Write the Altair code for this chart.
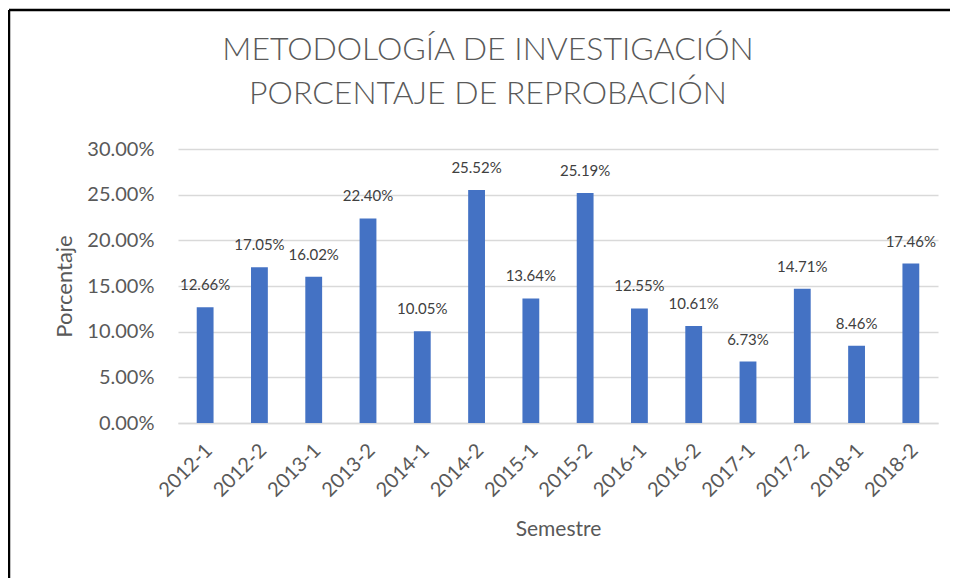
import altair as alt
import pandas as pd

semestres = ["2012-1", "2012-2", "2013-1", "2013-2", "2014-1", "2014-2", "2015-1",
             "2015-2", "2016-1", "2016-2", "2017-1", "2017-2", "2018-1", "2018-2"]
porcentajes = [0.1266, 0.1705, 0.1602, 0.2240, 0.1005, 0.2552, 0.1364,
               0.2519, 0.1255, 0.1061, 0.0673, 0.1471, 0.0846, 0.1746]
y_ticks = [0, 0.05, 0.10, 0.15, 0.20, 0.25, 0.30]
titulo = ["METODOLOGÍA DE INVESTIGACIÓN", "PORCENTAJE DE REPROBACIÓN"]

df = pd.DataFrame({"Semestre": semestres, "Porcentaje": porcentajes})

FONT = "Lato"
GREY = "#595959"

x_enc = alt.X("Semestre:N", sort=semestres, title="Semestre",
              scale=alt.Scale(paddingInner=0.69, paddingOuter=0.345),
              axis=alt.Axis(labelAngle=-45, labelAlign="right", labelBaseline="middle",
                            labelFontSize=20, labelColor=GREY, labelFont=FONT,
                            labelPadding=24, labelOffset=4, ticks=False,
                            domainColor="#d9d9d9", domainWidth=1.5,
                            titleFontSize=21, titleColor=GREY, titleFont=FONT,
                            titleFontWeight="normal", titlePadding=18))
y_enc = alt.Y("Porcentaje:Q", title="Porcentaje",
              scale=alt.Scale(domain=[0, 0.30], nice=False),
              axis=alt.Axis(values=y_ticks, format=".2%", labelFontSize=20,
                            labelColor=GREY, labelFont=FONT, labelPadding=24,
                            ticks=False, domain=False, gridColor="#d9d9d9",
                            gridWidth=1.5, titleFontSize=22, titleColor=GREY,
                            titleFont=FONT, titleFontWeight="normal", titlePadding=10))

bars = alt.Chart(df).mark_bar(color="#4472C4").encode(x=x_enc, y=y_enc)

labels = alt.Chart(df).mark_text(baseline="bottom", dy=-14, fontSize=15,
                                 font=FONT, color="#404040").encode(
    x=alt.X("Semestre:N", sort=semestres),
    y=alt.Y("Porcentaje:Q"),
    text=alt.Text("Porcentaje:Q", format=".2%"))

frame = pd.DataFrame({"k": [0]})
left_border = alt.Chart(frame).mark_rule(color="black", strokeWidth=2.5).encode(
    x=alt.value(-169), y=alt.value(-139), y2=alt.value(440))
top_border = alt.Chart(frame).mark_rule(color="black", strokeWidth=2.5).encode(
    x=alt.value(-169), x2=alt.value(775), y=alt.value(-139))

title_1 = alt.Chart(frame).mark_text(
    text=titulo[0], fontSize=32, font=FONT, fontWeight=300, color=GREY,
    baseline="middle", align="center").encode(x=alt.value(310), y=alt.value(-99))
title_2 = alt.Chart(frame).mark_text(
    text=titulo[1], fontSize=32, font=FONT, fontWeight=300, color=GREY,
    baseline="middle", align="center").encode(x=alt.value(310), y=alt.value(-55))

chart = alt.layer(bars, labels, left_border, top_border, title_1, title_2).properties(
    width=760, height=274,
    autosize=alt.AutoSizeParams(type="none"),
    padding={"left": 170, "top": 141, "right": 12, "bottom": 155},
).configure_view(stroke=None)

chart.save("out.html", embed_options={"renderer": "svg", "actions": False})
